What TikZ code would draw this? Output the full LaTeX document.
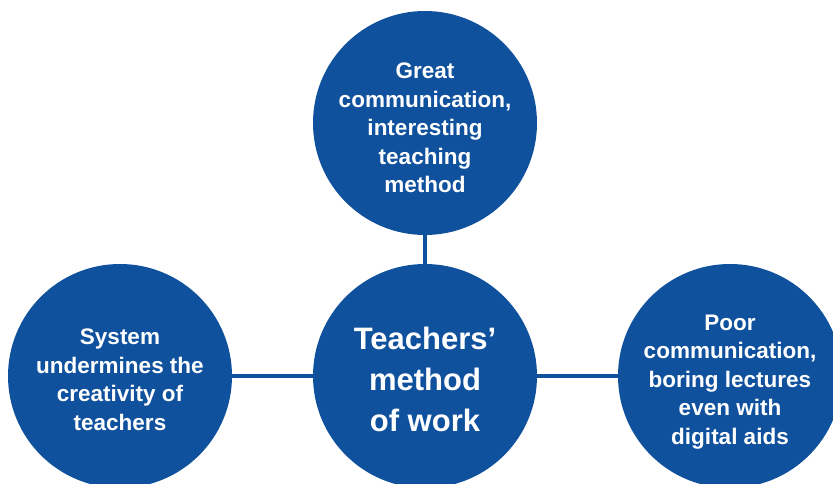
\documentclass[tikz,border=0pt]{standalone}
\usepackage{fontspec}
\setmainfont{Liberation Sans}
\usepackage{tikz}
\usetikzlibrary{shapes, positioning, backgrounds}
\definecolor{bubbleblue}{HTML}{10519E}
\tikzstyle{bubble} = [circle, fill=bubbleblue, minimum size=224pt, inner sep=0pt]
\tikzstyle{words} = [text=white, align=center, font=\bfseries\fontsize{22.5}{28.5}\selectfont]
\tikzstyle{bigwords} = [text=white, align=center, font=\bfseries\fontsize{31}{41}\selectfont]
\tikzstyle{link} = [line width=4pt, draw=bubbleblue]

\begin{document}
\begin{tikzpicture}[x=1pt, y=1pt]
\useasboundingbox (0, 0) rectangle (833, 484);

\node (centre) [bubble] at (425, 108) {};
\node (top) [bubble] at (425, 361) {};
\node (left) [bubble] at (120, 108) {};
\node (right) [bubble] at (730, 108) {};

\node (centretext) [bigwords] at ([yshift=-3pt]centre.center) {Teachers’\\method\\of work};
\node (toptext) [words] at ([yshift=-5pt]top.center) {Great\\communication,\\interesting\\teaching\\method};
\node (lefttext) [words] at ([yshift=-4pt]left.center) {System\\undermines the\\creativity of\\teachers};
\node (righttext) [words] at ([yshift=-6pt]right.center) {Poor\\communication,\\boring lectures\\even with\\digital aids};

\begin{scope}[on background layer]
\draw[link] (centre) -- (top);
\draw[link] (centre) -- (left);
\draw[link] (centre) -- (right);
\end{scope}
\end{tikzpicture}
\end{document}
